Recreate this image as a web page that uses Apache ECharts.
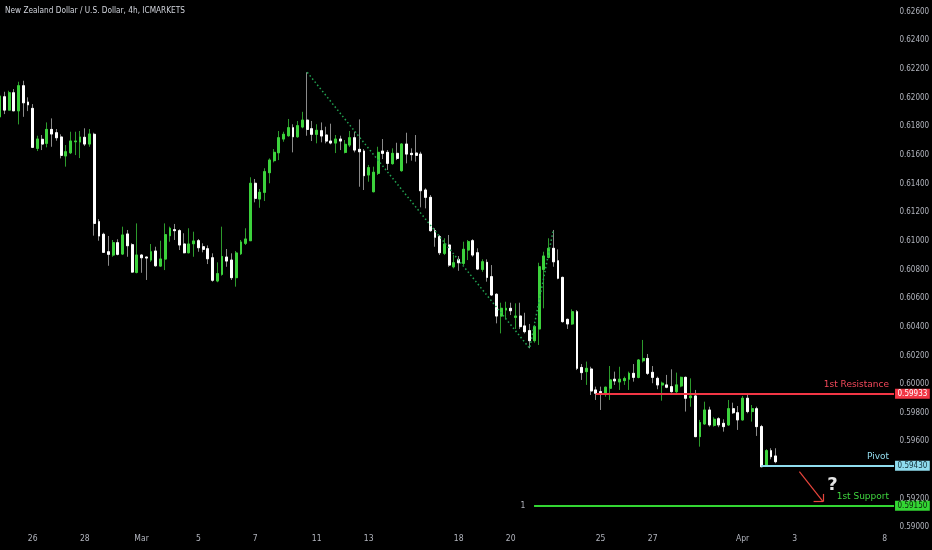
<!DOCTYPE html>
<html>
<head>
<meta charset="utf-8">
<style>
html,body{margin:0;padding:0;background:#000;}
#chart{width:932px;height:550px;}
</style>
<script src="https://cdn.jsdelivr.net/npm/echarts@6/dist/echarts.min.js"></script>
</head>
<body>
<div id="chart"></div>
<script>
// ---- data (4h candles, NZD/USD) ----
const opens = [0.61866,0.62006,0.61913,0.62034,0.61908,0.62083,0.61969,0.61925,0.61646,0.61709,
0.61681,0.61778,0.61755,0.61725,0.61593,0.61615,0.61692,0.61690,0.61723,0.61676,
0.61744,0.61134,0.61046,0.60924,0.60901,0.60987,0.60908,0.61048,0.60973,0.60780,
0.60901,0.60887,0.60866,0.60929,0.60824,0.60873,0.61036,0.61078,0.61071,0.60978,
0.60917,0.60980,0.61001,0.60959,0.60945,0.60882,0.60720,0.60766,0.60887,0.60866,
0.60743,0.60910,0.60983,0.61001,0.61402,0.61292,0.61339,0.61476,0.61560,0.61615,
0.61711,0.61734,0.61790,0.61727,0.61795,0.61843,0.61783,0.61744,0.61769,0.61739,
0.61697,0.61683,0.61711,0.61618,0.61669,0.61720,0.61639,0.61627,0.61460,0.61343,
0.61472,0.61627,0.61618,0.61539,0.61611,0.61490,0.61676,0.61611,0.61613,0.61606,
0.61355,0.61304,0.61071,0.61029,0.60913,0.60971,0.60819,0.60871,0.60843,0.60936,
0.61001,0.60917,0.60801,0.60850,0.60750,0.60627,0.60475,0.60517,0.60529,0.60466,
0.60475,0.60406,0.60373,0.60303,0.60385,0.60801,0.60885,0.60948,0.60861,0.60745,
0.60452,0.60420,0.60505,0.60116,0.60087,0.60105,0.59959,0.59947,0.59929,0.59971,
0.60034,0.60015,0.60024,0.60034,0.60075,0.60047,0.60163,0.60179,0.60082,0.60040,
0.59994,0.59994,0.59982,0.59947,0.59987,0.60047,0.59905,0.59917,0.59633,0.59722,
0.59819,0.59712,0.59758,0.59726,0.59715,0.59828,0.59800,0.59750,0.59901,0.59808,
0.59828,0.59703,0.59428,0.59535,0.59498];
const closes = [0.62011,0.61913,0.62034,0.61908,0.62083,0.61964,0.61950,0.61653,0.61711,0.61676,
0.61778,0.61746,0.61720,0.61597,0.61622,0.61697,0.61697,0.61725,0.61676,0.61746,
0.61122,0.61034,0.60920,0.60906,0.60987,0.60906,0.61041,0.60966,0.60782,0.60901,
0.60882,0.60880,0.60924,0.60826,0.60873,0.61043,0.61088,0.61071,0.60971,0.60917,
0.60978,0.60999,0.60952,0.60941,0.60875,0.60725,0.60771,0.60891,0.60859,0.60743,
0.60915,0.60992,0.61013,0.61402,0.61297,0.61339,0.61483,0.61564,0.61618,0.61720,
0.61744,0.61790,0.61727,0.61804,0.61843,0.61778,0.61744,0.61772,0.61732,0.61697,
0.61683,0.61711,0.61697,0.61674,0.61720,0.61634,0.61622,0.61455,0.61511,0.61479,
0.61618,0.61611,0.61541,0.61611,0.61576,0.61676,0.61606,0.61602,0.61597,0.61350,
0.61304,0.61071,0.61025,0.60917,0.60978,0.60831,0.60847,0.60847,0.60941,0.60994,
0.60901,0.60803,0.60854,0.60745,0.60622,0.60475,0.60529,0.60529,0.60512,0.60475,
0.60401,0.60366,0.60303,0.60401,0.60819,0.60894,0.60948,0.60854,0.60739,0.60436,
0.60420,0.60505,0.60110,0.60080,0.60110,0.59952,0.59936,0.59940,0.59978,0.60029,
0.60022,0.60034,0.60038,0.60075,0.60047,0.60168,0.60179,0.60075,0.60047,0.59994,
0.60006,0.59978,0.59947,0.59994,0.60047,0.59901,0.59917,0.59633,0.59731,0.59819,
0.59715,0.59754,0.59715,0.59703,0.59828,0.59800,0.59750,0.59901,0.59808,0.59828,
0.59703,0.59423,0.59535,0.59493,0.59458];
const lows = [0.61843,0.61885,0.61910,0.61906,0.61813,0.61866,0.61906,0.61648,0.61627,0.61634,
0.61653,0.61657,0.61699,0.61576,0.61518,0.61606,0.61599,0.61578,0.61662,0.61657,
0.61036,0.61001,0.60917,0.60826,0.60889,0.60899,0.60901,0.60889,0.60777,0.60773,
0.60777,0.60727,0.60854,0.60819,0.60819,0.60796,0.60994,0.61006,0.60936,0.60913,
0.60913,0.60889,0.60924,0.60920,0.60838,0.60715,0.60711,0.60757,0.60819,0.60727,
0.60680,0.60901,0.60971,0.60999,0.61269,0.61231,0.61278,0.61402,0.61548,0.61564,
0.61692,0.61727,0.61618,0.61720,0.61786,0.61734,0.61697,0.61681,0.61688,0.61681,
0.61674,0.61613,0.61634,0.61611,0.61655,0.61618,0.61378,0.61355,0.61413,0.61339,
0.61460,0.61571,0.61495,0.61532,0.61564,0.61483,0.61541,0.61560,0.61553,0.61234,
0.61227,0.61064,0.60959,0.60901,0.60901,0.60819,0.60808,0.60791,0.60831,0.60866,
0.60889,0.60796,0.60784,0.60715,0.60615,0.60424,0.60354,0.60452,0.60482,0.60385,
0.60385,0.60354,0.60250,0.60289,0.60273,0.60529,0.60878,0.60819,0.60732,0.60429,
0.60385,0.60413,0.60098,0.60029,0.59994,0.59924,0.59889,0.59819,0.59912,0.59889,
0.59994,0.59959,0.59994,0.59959,0.60017,0.60040,0.60151,0.60064,0.60006,0.59964,
0.59884,0.59971,0.59940,0.59936,0.59978,0.59808,0.59842,0.59629,0.59563,0.59715,
0.59703,0.59703,0.59699,0.59668,0.59708,0.59791,0.59680,0.59745,0.59796,0.59738,
0.59638,0.59419,0.59423,0.59475,0.59447];
const highs = [0.62018,0.62041,0.62048,0.62060,0.62111,0.62118,0.62002,0.61955,0.61734,0.61739,
0.61827,0.61855,0.61781,0.61744,0.61669,0.61762,0.61762,0.61767,0.61786,0.61781,
0.61755,0.61152,0.61057,0.61034,0.61006,0.61011,0.61099,0.61076,0.60983,0.61122,
0.60906,0.60889,0.60978,0.60959,0.61001,0.61122,0.61099,0.61118,0.61081,0.61053,
0.61088,0.61064,0.61013,0.60983,0.60968,0.60913,0.60850,0.61099,0.60943,0.60913,
0.60929,0.61006,0.61088,0.61444,0.61432,0.61362,0.61507,0.61576,0.61641,0.61767,
0.61762,0.61851,0.61814,0.61837,0.61901,0.62177,0.61837,0.61814,0.61827,0.61797,
0.61818,0.61739,0.61734,0.61704,0.61767,0.61762,0.61848,0.61641,0.61530,0.61518,
0.61657,0.61711,0.61634,0.61646,0.61685,0.61681,0.61755,0.61646,0.61739,0.61622,
0.61367,0.61320,0.61088,0.61041,0.61018,0.61041,0.60901,0.60894,0.60994,0.61006,
0.61011,0.60948,0.60871,0.60871,0.60831,0.60634,0.60568,0.60575,0.60568,0.60564,
0.60568,0.60498,0.60420,0.60413,0.60847,0.60924,0.61018,0.61076,0.60941,0.60750,
0.60457,0.60522,0.60517,0.60140,0.60157,0.60121,0.59982,0.59982,0.59982,0.60126,
0.60087,0.60121,0.60052,0.60087,0.60140,0.60175,0.60308,0.60210,0.60126,0.60052,
0.60017,0.60064,0.60103,0.60080,0.60052,0.60052,0.60040,0.59959,0.59750,0.59877,
0.59842,0.59768,0.59768,0.59754,0.59889,0.59870,0.59847,0.59917,0.59936,0.59854,
0.59842,0.59715,0.59545,0.59552,0.59552];

// time axis: 190 bar slots, labels at these slots
const slotCount = 190;
const dateLabelSlots = [7, 18, 30, 42, 54, 67, 78, 97, 108, 127, 138, 157, 168, 187];
const dateLabelTexts = ['26', '28', 'Mar', '5', '7', '11', '13', '18', '20', '25', '27', 'Apr', '3', '8'];

// price scale
const priceMin = 0.588, priceMax = 0.628, priceStep = 0.002;

// drawn levels
const levelNames = ['1st Resistance', 'Pivot', '1st Support'];
const levelValues = [0.59933, 0.59430, 0.59150];
const levelStartSlots = [126, 161, 113];

// dotted trend drawing (slot, price)
const trendSlots = [65, 112, 117];
const trendValues = [0.62177, 0.60250, 0.61076];

// arrow drawing (slot, price): tail, tip, head ends
const arrowSlots = [169, 174, 172, 174];
const arrowValues = [0.59389, 0.59179, 0.59179, 0.59233];
const questionSlot = 176, questionValue = 0.59296;

// ---- build ----
const NARROW = "'Liberation Sans Narrow', 'Arial Narrow', 'DejaVu Sans Condensed', sans-serif";
const LABELFONT = "'DejaVu Sans', sans-serif";
const GREEN = '#3cd23c', WHITE = '#ffffff';
const RED = '#f23645', CYAN = '#8fdcee', LGREEN = '#33d633';

const cats = [];
for (let i = 0; i < slotCount; i++) cats.push('');
dateLabelSlots.forEach((s, i) => { cats[s] = dateLabelTexts[i]; });

const wickData = opens.map((o, i) => [o, closes[i], lows[i], highs[i]]);
const bodyData = opens.map((o, i) => [o, closes[i], Math.min(o, closes[i]), Math.max(o, closes[i])]);
const trendData = trendSlots.map((s, i) => [s, trendValues[i]]);

const levelColors = [RED, CYAN, LGREEN];
const textColors = ['#f2485a', '#93dcee', '#3fd63f'];
const boxText = ['#ffffff', '#14323c', '#0b240b'];
const lastSlot = slotCount - 1;

const markLines = [];
levelValues.forEach((v, i) => {
  const ls = { color: levelColors[i], width: 2, type: 'solid' };
  markLines.push([
    { coord: [levelStartSlots[i], v], lineStyle: ls,
      label: { show: true, position: 'insideEndTop', distance: [5, 4], formatter: levelNames[i],
               color: textColors[i], fontSize: 9, fontFamily: LABELFONT, lineHeight: 11 } },
    { coord: [lastSlot, v] }
  ]);
  markLines.push([
    { coord: [levelStartSlots[i], v], lineStyle: ls,
      label: { show: true, position: 'end', distance: [1, 0], formatter: v.toFixed(5),
               color: boxText[i], backgroundColor: levelColors[i], padding: [1, 2.5, 0, 2.5],
               fontSize: 8, lineHeight: 9, fontFamily: NARROW } },
    { coord: [lastSlot, v] }
  ]);
});
// "1" tag at start of support line
markLines.push([
  { coord: [levelStartSlots[2], levelValues[2]], lineStyle: { color: LGREEN, width: 2 },
    label: { show: true, position: 'start', distance: 9, formatter: '1', color: '#b2b5be', fontSize: 8.5, fontFamily: NARROW } },
  { coord: [lastSlot, levelValues[2]] }
]);
// arrow
const arrowStyle = { color: '#e8453c', width: 1.2, type: 'solid' };
markLines.push([{ coord: [arrowSlots[0], arrowValues[0]], lineStyle: arrowStyle, label: { show: false } }, { coord: [arrowSlots[1], arrowValues[1]] }]);
markLines.push([{ coord: [arrowSlots[1], arrowValues[1]], lineStyle: arrowStyle, label: { show: false } }, { coord: [arrowSlots[2], arrowValues[2]] }]);
markLines.push([{ coord: [arrowSlots[1], arrowValues[1]], lineStyle: arrowStyle, label: { show: false } }, { coord: [arrowSlots[3], arrowValues[3]] }]);

const chart = echarts.init(document.getElementById('chart'), null, { renderer: 'canvas' });
chart.setOption({
  backgroundColor: '#000000',
  animation: false,
  title: {
    text: 'New Zealand Dollar / U.S. Dollar, 4h, ICMARKETS',
    left: 5, top: 7, padding: 0,
    textStyle: { color: '#d1d4dc', fontSize: 8.2, fontWeight: 'normal', fontFamily: NARROW }
  },
  grid: { left: -2.77, right: 35.6, top: -16.94, bottom: -5.94, containLabel: false, outerBoundsMode: 'none' },
  xAxis: {
    type: 'category', data: cats, boundaryGap: true, offset: -26,
    axisLine: { show: false }, axisTick: { show: false }, splitLine: { show: false },
    axisLabel: { interval: 0, margin: 4.5, color: '#b2b5be', fontSize: 8.5, fontFamily: NARROW, hideOverlap: false }
  },
  yAxis: {
    type: 'value', position: 'right', min: priceMin, max: priceMax, interval: priceStep,
    axisLine: { show: false }, axisTick: { show: false }, splitLine: { show: false },
    axisLabel: {
      margin: 3, color: '#b2b5be', fontSize: 8, fontFamily: NARROW,
      formatter: v => (Math.abs(v - 0.594) < 1e-7 ? '' : v.toFixed(5))
    }
  },
  series: [
    {
      type: 'candlestick', name: 'wick', data: wickData, barWidth: 2.4, silent: true,
      itemStyle: { color: '#2c9a2c', color0: '#8a8a8a', borderColor: '#2c9a2c', borderColor0: '#8a8a8a', borderWidth: 1 },
      markLine: { silent: true, symbol: ['none', 'none'], animation: false, data: markLines },
      markPoint: {
        silent: true, animation: false,
        data: [{ coord: [questionSlot, questionValue], symbol: 'circle', symbolSize: 0,
                 label: { show: true, position: 'inside', formatter: '?', color: '#e6e6e6', fontSize: 18, fontWeight: 'bold', fontFamily: LABELFONT } }]
      }
    },
    {
      type: 'candlestick', name: 'body', data: bodyData, barWidth: 2.4, silent: true,
      itemStyle: { color: GREEN, color0: WHITE, borderColor: GREEN, borderColor0: WHITE, borderWidth: 1 }
    },
    {
      type: 'line', name: 'trend', data: trendData, symbol: 'none', silent: true,
      lineStyle: { color: '#22a352', width: 1.5, type: [1.5, 2.5] }
    }
  ]
});
</script>
</body>
</html>
